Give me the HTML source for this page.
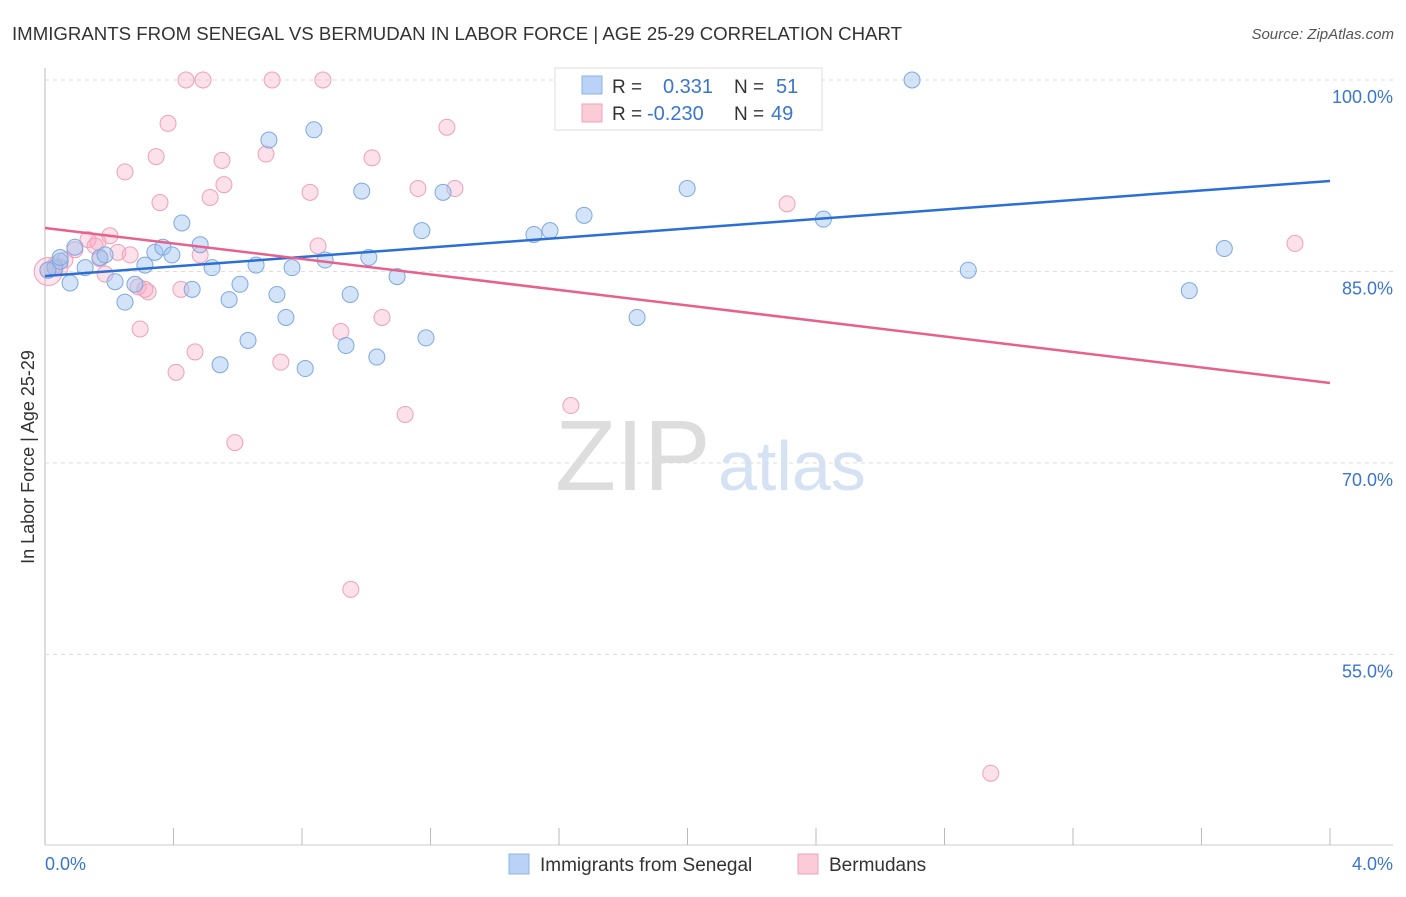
<!DOCTYPE html>
<html><head><meta charset="utf-8"><style>
body{margin:0;background:#fff;font-family:"Liberation Sans",sans-serif;}
svg text{font-family:"Liberation Sans",sans-serif;}
</style></head><body>
<svg id="chart" width="1406" height="892" xmlns="http://www.w3.org/2000/svg">
<text x="12" y="40" font-size="18" fill="#333" textLength="890" lengthAdjust="spacingAndGlyphs">IMMIGRANTS FROM SENEGAL VS BERMUDAN IN LABOR FORCE | AGE 25-29 CORRELATION CHART</text>
<text x="1394" y="39" font-size="15" fill="#555" text-anchor="end" font-style="italic">Source: ZipAtlas.com</text>
<text transform="translate(34,457) rotate(-90)" font-size="18" fill="#333" text-anchor="middle">In Labor Force | Age 25-29</text>
<text x="555" y="490" font-size="100" fill="#ddd" font-family="Liberation Serif">ZIP</text>
<text x="718" y="490" font-size="70" fill="#d5e2f3">atlas</text>
<g id="grid"></g><g id="pts"></g><g id="lines"></g>
<g>
<rect x="555" y="68" width="267" height="62" fill="#fff" stroke="#ddd"/>
<rect x="582" y="76" width="20" height="18" fill="#b9d2f5" stroke="#8fb3e8"/>
<rect x="582" y="104" width="20" height="18" fill="#fbcbd8" stroke="#f0a3ba"/>
<text x="612" y="93" font-size="19" fill="#333">R = </text><text x="663" y="93" font-size="20" fill="#3a75d1">0.331</text>
<text x="734" y="93" font-size="19" fill="#333">N = </text><text x="776" y="93" font-size="20" fill="#3a75d1">51</text>
<text x="612" y="120" font-size="19" fill="#333">R = </text><text x="647" y="120" font-size="20" fill="#3a75d1">-0.230</text>
<text x="734" y="120" font-size="19" fill="#333">N = </text><text x="771" y="120" font-size="20" fill="#3a75d1">49</text>
</g>
<g>
<rect x="509" y="854" width="20" height="20" fill="#b9d2f5" stroke="#8fb3e8"/>
<text x="540" y="871" font-size="19" fill="#333">Immigrants from Senegal</text>
<rect x="798" y="854" width="20" height="20" fill="#fbcbd8" stroke="#f0a3ba"/>
<text x="829" y="871" font-size="19" fill="#333">Bermudans</text>
</g>
<text x="45" y="870" font-size="18" fill="#3a75d1">0.0%</text>
<text x="1393" y="870" font-size="18" fill="#3a75d1" text-anchor="end">4.0%</text>
</svg>
<script>
const yTicks=[100,85,70,55];
const yTickLabels=["100.0%","85.0%","70.0%","55.0%"];
const blueX=[0.031,0.047,0.078,0.125,0.171,0.218,0.249,0.28,0.311,0.342,0.367,0.395,0.426,0.458,0.483,0.52,0.545,0.573,0.607,0.632,0.657,0.697,0.722,0.75,0.769,0.81,0.837,0.872,0.937,0.95,0.986,1.008,1.033,1.096,1.173,1.186,1.239,1.522,1.572,1.678,1.843,1.999,2.423,2.699,2.874,3.562,3.671,0.009,0.047,0.093,0.187];
const blueY=[85.3,85.8,84.1,85.3,86.1,84.2,82.6,84.0,85.5,86.5,86.9,86.3,88.8,83.6,87.1,85.3,77.7,82.8,84.0,79.6,85.5,95.3,83.2,81.4,85.3,77.4,96.1,85.9,79.2,83.2,91.3,86.1,78.3,84.6,88.2,79.8,91.2,87.9,88.2,89.4,81.4,91.5,89.1,100.0,85.1,83.5,86.8,85.1,86.1,86.9,86.3];
const pinkX=[0.009,0.031,0.062,0.093,0.134,0.165,0.187,0.202,0.227,0.249,0.265,0.296,0.29,0.321,0.346,0.358,0.383,0.408,0.423,0.439,0.467,0.483,0.492,0.514,0.551,0.557,0.591,0.688,0.707,0.734,0.825,0.85,0.865,0.921,0.952,1.018,1.049,1.121,1.161,1.251,1.276,1.637,2.31,2.944,3.891,0.047,0.156,0.171,0.311];
const pinkY=[85.1,85.5,85.9,86.7,87.5,87.3,84.8,87.8,86.5,92.8,86.3,80.5,83.8,83.4,94.0,90.4,96.6,77.1,83.6,100.0,78.7,86.3,100.0,90.8,93.7,91.8,71.6,94.2,100.0,77.9,91.2,87.0,100.0,80.3,60.1,93.9,81.4,73.8,91.5,96.3,91.5,74.5,90.3,45.7,87.2,85.3,87.0,86.0,83.6];
const blueTrend=[84.65,92.09];
const pinkTrend=[88.41,76.27];
const X=v=>45+v/4*1285, Y=v=>80+(100-v)/15*191.5;
const NS="http://www.w3.org/2000/svg";
function mk(tag,attrs,parent){const e=document.createElementNS(NS,tag);for(const k in attrs)e.setAttribute(k,attrs[k]);parent.appendChild(e);return e;}
const grid=document.getElementById('grid');
let ax=mk('line',{x1:45,y1:68,x2:45,y2:845,stroke:'#bbb'},grid);


let bx=mk('line',{x1:45,y1:845,x2:1393,y2:845,stroke:'#ccc'},grid);


yTicks.forEach((t,i)=>{
 const g=mk('line',{x1:45,y1:Y(t),x2:1393,y2:Y(t),stroke:'#ddd','stroke-dasharray':'4,4'},grid);
 
 
 const tx=mk('text',{x:1393,y:Y(t)+23,'font-size':18,fill:'#3a75d1','text-anchor':'end'},grid);
 tx.textContent=yTickLabels[i];
 
 
});
for(let i=0;i<=10;i++){
 const t=mk('line',{x1:X(i*0.4),y1:828,x2:X(i*0.4),y2:845,stroke:'#bbb'},grid);
 
 
}
const pts=document.getElementById('pts');
const big=mk('circle',{cx:X(0.01),cy:Y(85.0),r:14,fill:'rgba(246,170,195,0.3)',stroke:'#f0a0b8'},pts);


pinkX.forEach((x,i)=>{
 const c=mk('circle',{cx:X(x),cy:Y(pinkY[i]),r:8,fill:'rgba(246,170,195,0.35)',stroke:'#f0a0b8','stroke-width':1},pts);
 
 
});
blueX.forEach((x,i)=>{
 const c=mk('circle',{cx:X(x),cy:Y(blueY[i]),r:8,fill:'rgba(160,195,240,0.45)',stroke:'#7ea8e0','stroke-width':1},pts);
 
 
});
const lines=document.getElementById('lines');
const bl=mk('line',{x1:X(0),y1:Y(blueTrend[0]),x2:X(4),y2:Y(blueTrend[1]),stroke:'#2b6fd6','stroke-width':2.5},lines);


const pl=mk('line',{x1:X(0),y1:Y(pinkTrend[0]),x2:X(4),y2:Y(pinkTrend[1]),stroke:'#e8608c','stroke-width':2.5},lines);


</script>
</body></html>
